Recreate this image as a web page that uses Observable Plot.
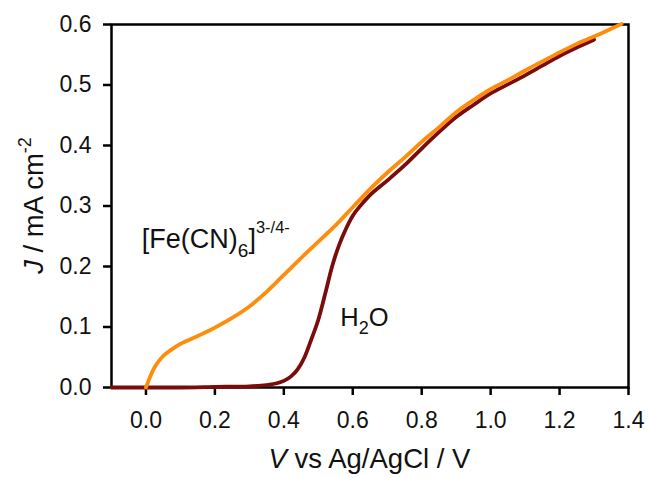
<!DOCTYPE html>
<html><head><meta charset="utf-8">
<script src="https://cdn.jsdelivr.net/npm/d3@7"></script>
<script src="https://cdn.jsdelivr.net/npm/@observablehq/plot@0.6"></script>
<style>
body{margin:0;background:#fff}
svg{font-family:"Liberation Sans",Arial,sans-serif}
</style>
</head><body><div id="chart"></div>
<script>
const xTicks = [0.0, 0.2, 0.4, 0.6, 0.8, 1.0, 1.2, 1.4];
const yTicks = [0.0, 0.1, 0.2, 0.3, 0.4, 0.5, 0.6];

// [Fe(CN)6]3-/4- curve
const feV = [0.0, 0.01, 0.02, 0.03, 0.05, 0.075, 0.1, 0.15, 0.2, 0.25, 0.3, 0.35, 0.4, 0.45, 0.5, 0.55, 0.6, 0.65, 0.7, 0.75, 0.8, 0.85, 0.9, 0.95, 1.0, 1.05, 1.1, 1.15, 1.2, 1.25, 1.3, 1.35, 1.38];
const feJ = [0.0, 0.015, 0.028, 0.038, 0.052, 0.063, 0.072, 0.085, 0.099, 0.115, 0.134, 0.158, 0.186, 0.214, 0.241, 0.268, 0.298, 0.328, 0.355, 0.38, 0.406, 0.43, 0.455, 0.475, 0.493, 0.508, 0.524, 0.539, 0.554, 0.568, 0.58, 0.593, 0.601];

// H2O curve
const h2oV = [-0.1, 0.0, 0.1, 0.2, 0.3, 0.35, 0.38, 0.4, 0.42, 0.44, 0.46, 0.48, 0.5, 0.52, 0.54, 0.56, 0.58, 0.6, 0.62, 0.65, 0.7, 0.75, 0.8, 0.85, 0.9, 0.95, 1.0, 1.05, 1.1, 1.15, 1.2, 1.25, 1.3];
const h2oJ = [0.0, 0.0, 0.0, 0.001, 0.002, 0.004, 0.007, 0.011, 0.018, 0.03, 0.05, 0.08, 0.112, 0.155, 0.2, 0.235, 0.262, 0.284, 0.299, 0.318, 0.342, 0.367, 0.395, 0.422, 0.447, 0.467, 0.486, 0.501, 0.516, 0.532, 0.548, 0.562, 0.575];

// annotation anchors (data units)
const feLabel = [{V: -0.012, J: 0.231, t: "[Fe(CN)"}];
const h2oLabel = [{V: 0.564, J: 0.102, t: "H"}];

const fe = feV.map((v, i) => ({V: v, J: feJ[i]}));
const h2o = h2oV.map((v, i) => ({V: v, J: h2oJ[i]}));

const chart = Plot.plot({
  width: 648, height: 478,
  marginLeft: 111, marginRight: 20, marginTop: 24, marginBottom: 91,
  style: {fontSize: "23px", fontFamily: '"Liberation Sans", Arial, sans-serif', color: "#111"},
  x: {domain: [-0.1, 1.4]},
  y: {domain: [0, 0.6]},
  marks: [
    Plot.axisX({ticks: xTicks, tickSize: 8, tickPadding: 16, strokeWidth: 2.5, stroke: "#000", fontSize: 23, fill: "#111", tickFormat: d => d.toFixed(1), label: null}),
    Plot.axisY({ticks: yTicks, tickSize: 8, tickPadding: 12, strokeWidth: 2.5, stroke: "#000", fontSize: 23, fill: "#111", tickFormat: d => d.toFixed(1), label: null}),
    Plot.frame({stroke: "#000", strokeWidth: 2.5}),
    Plot.line(h2o, {x: "V", y: "J", stroke: "#7a0c0c", strokeWidth: 3.8, curve: "monotone-x"}),
    Plot.line(fe, {x: "V", y: "J", stroke: "#ff8c0a", strokeWidth: 3.8, curve: "monotone-x"}),
    Plot.text(feLabel, {x: "V", y: "J", text: "t", textAnchor: "start", fontSize: 27, fill: "#111"}),
    Plot.text(h2oLabel, {x: "V", y: "J", text: "t", textAnchor: "start", fontSize: 25.5, fill: "#111"})
  ]
});

const svg = d3.select(chart);
const xs = chart.scale("x"), ys = chart.scale("y");
const tickTexts = new Set([...xTicks, ...yTicks].map(d => d.toFixed(1)));
svg.selectAll("text").filter(function() { return tickTexts.has(this.textContent); })
  .attr("font-size", 23).style("font-size", "23px");

function rich(label, parts) {
  const sel = svg.selectAll("text").filter(function() { return this.textContent === label.t; });
  if (sel.empty()) return;
  sel.attr("transform", null).attr("dy", null)
     .attr("x", xs.apply(label.V)).attr("y", ys.apply(label.J));
  sel.text(null);
  let shift = 0;
  for (const p of parts) {
    const ts = sel.append("tspan").text(p.t);
    if (p.fs) ts.attr("font-size", p.fs);
    const d = (p.dy || 0) - shift;
    if (d) ts.attr("dy", d);
    shift = p.dy || 0;
  }
}
rich(feLabel[0], [{t: "[Fe(CN)"}, {t: "6", fs: 19, dy: 9}, {t: "]"}, {t: "3-/4-", fs: 16.5, dy: -15}]);
rich(h2oLabel[0], [{t: "H"}, {t: "2", fs: 18, dy: 8}, {t: "O"}]);

// axis titles
const xr = xs.range, yr = ys.range;
const xl = svg.append("text").attr("x", (xr[0] + xr[1]) / 2).attr("y", 468)
  .attr("text-anchor", "middle").attr("font-size", 27.5).attr("fill", "#111");
xl.append("tspan").attr("font-style", "italic").text("V");
xl.append("tspan").text(" vs Ag/AgCl / V");
const yl = svg.append("text").attr("transform", `translate(43,${(yr[0] + yr[1]) / 2}) rotate(-90)`)
  .attr("text-anchor", "middle").attr("font-size", 27.5).attr("fill", "#111");
yl.append("tspan").attr("font-style", "italic").text("J");
yl.append("tspan").text(" / mA cm");
yl.append("tspan").attr("font-size", 18).attr("dy", -12).text("-2");

document.getElementById("chart").appendChild(chart);
</script>
</body></html>
